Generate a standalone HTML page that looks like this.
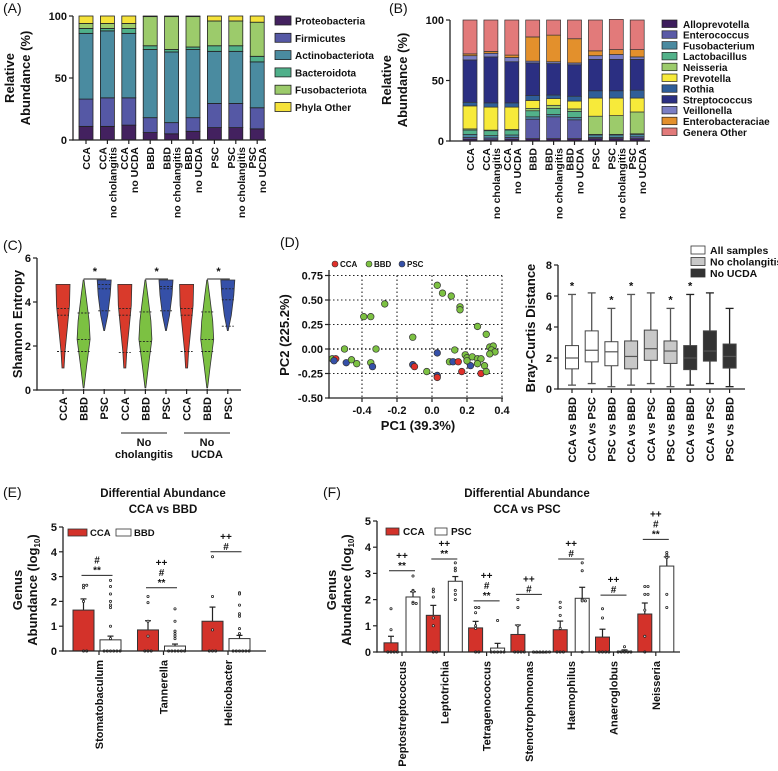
<!DOCTYPE html>
<html><head><meta charset="utf-8"><style>
html,body{margin:0;padding:0;background:#fff;}
svg{display:block;font-family:"Liberation Sans",Arial,sans-serif;}
text{font-weight:bold;fill:#111;}
</style></head><body>
<svg id="fig" width="778" height="771" viewBox="0 0 778 771" xmlns="http://www.w3.org/2000/svg"></svg>
<script>
// ---------- DATA ----------
const aCats=[["CCA"],["CCA","no cholangitis"],["CCA","no UCDA"],["BBD"],["BBD","no cholangitis"],["BBD","no UCDA"],["PSC"],["PSC","no cholangitis"],["PSC","no UCDA"]];
const aSeries=["Proteobacteria","Firmicutes","Actinobacteriota","Bacteroidota","Fusobacteriota","Phyla Other"];
const aProteo=[11,11,12,6,5,7,10,10,9];
const aFirm=[22,23,22,12,9,11,19.5,19.5,17];
const aActino=[53,54,52,55,57,55,42,42,37];
const aBact=[4,2,4,3,2,2,4.5,4.5,4.5];
const aFuso=[4,4,4,23.5,26.5,24.5,20,20,27.5];
const aOther=[6,6,6,0.5,0.5,0.5,4,4,5];
const aTicks=[0,50,100];
const bSeries=["Alloprevotella","Enterococcus","Fusobacterium","Lactobacillus","Neisseria","Prevotella","Rothia","Streptococcus","Veillonella","Enterobacteraciae","Genera Other"];
const bAllo=[1.5,1,1.5,2,2,2,2,2,2];
const bEntero=[1.5,1.5,1.5,16,18,15.5,1,1,1.5];
const bFuso=[2.5,2,2,2,2,2,2,2,2];
const bLacto=[3.5,4,4,5,5,5,0.5,0.5,0.5];
const bNeis=[1,0.5,0.5,2,2.5,2,15,15.5,18];
const bPrev=[19,19,18.5,6.5,5.5,6.5,15,14.5,11.5];
const bRoth=[3,3.5,3.5,4,3,4,6,6,6.5];
const bStrep=[35,38,34,27,26,26,26,26,25.5];
const bVeil=[3.5,3,3.5,1.5,1.5,1.5,3,4,2];
const bEntb=[1.5,1.5,2,20,22,20,4,4,6];
const bOther=[28,26,29,14,12.5,15.5,25.5,25,24.5];
const cCats=["CCA","BBD","PSC","CCA","BBD","PSC","CCA","BBD","PSC"];
const cMin=[1.0,0.1,2.7,1.0,0.1,2.7,1.0,0.1,2.7];
const cMax=[4.8,5.0,5.0,4.8,5.0,5.0,4.8,5.0,5.0];
const cMed=[3.4,2.3,4.6,3.4,2.2,4.6,3.4,2.3,4.1];
const cQ1=[1.75,1.75,3.6,1.7,1.75,3.6,1.75,1.75,2.9];
const cQ3=[3.7,3.5,4.8,3.7,3.55,4.7,3.7,3.55,4.6];
const cTicks=[0,2,4,6];
const dPC1=[-0.57,-0.55,-0.56,-0.50,-0.49,-0.46,-0.43,-0.32,-0.35,-0.34,-0.39,-0.35,-0.27,0.03,0.06,0.11,0.16,0.16,0.26,0.31,-0.11,0.13,0.33,0.35,0.34,0.36,0.33,0.03,-0.11,-0.10,-0.03,0.03,0.03,0.10,0.12,0.15,0.19,0.20,0.23,0.22,0.17,0.20,0.26,0.28,0.26,0.30,0.28,0.31];
const dPC2=[-0.10,-0.10,-0.12,0.00,-0.14,-0.11,-0.15,0.00,-0.14,-0.18,0.33,0.33,0.46,0.65,0.57,0.54,0.43,0.40,0.23,0.15,0.12,-0.01,0.02,0.03,-0.01,-0.03,-0.05,-0.04,-0.16,-0.18,-0.23,-0.27,-0.29,-0.13,-0.13,-0.13,-0.06,-0.09,-0.08,-0.17,-0.23,-0.12,-0.10,-0.10,-0.15,-0.17,-0.25,-0.23];
const dGrp=["BBD","CCA","PSC","BBD","PSC","BBD","BBD","BBD","BBD","PSC","BBD","BBD","BBD","BBD","BBD","BBD","BBD","BBD","BBD","BBD","BBD","BBD","BBD","BBD","BBD","BBD","BBD","PSC","PSC","CCA","BBD","PSC","CCA","BBD","PSC","CCA","BBD","BBD","BBD","PSC","CCA","BBD","BBD","BBD","BBD","BBD","CCA","BBD"];
const dXTicks=[-0.4,-0.2,0.0,0.2,0.4];
const dYTicks=[-0.50,-0.25,0.00,0.25,0.50,0.75];
const bcCats=["CCA vs BBD","CCA vs PSC","PSC vs BBD","CCA vs BBD","CCA vs PSC","PSC vs BBD","CCA vs BBD","CCA vs PSC","PSC vs BBD"];
const bcLo=[0.25,0.35,0.15,0.25,0.35,0.15,0.25,0.35,0.15];
const bcQ1=[1.3,1.75,1.5,1.3,1.85,1.65,1.25,1.8,1.35];
const bcMed=[2.0,2.5,2.4,2.1,2.6,2.45,2.0,2.45,2.1];
const bcQ3=[2.8,3.75,3.05,3.1,3.8,3.1,2.8,3.75,2.9];
const bcHi=[6.1,6.2,5.2,6.1,6.2,5.2,6.1,6.2,5.2];
const bcStar=[1,0,1,1,0,1,1,0,0];
const bcTicks=[0,2,4,6,8];
const eCats=["Stomatobaculum","Tannerella","Helicobacter"];
const eCCA=[1.65,0.85,1.2];
const eCCAerr=[0.45,0.37,0.57];
const eBBD=[0.45,0.2,0.5];
const eBBDerr=[0.15,0.08,0.13];
const eSigY=[3.05,2.55,4.0];
const eSig=[["#","**"],["++","#","**"],["++","#"]];
const eCCAdots=[[2.65,2.65,2.55,2.0,0,0],[2.2,1.95,1.2,0.6,0,0,0],[3.8,2.2,0.85,0,0,0]];
const eBBDdots=[[2.85,2.6,2.3,2.0,1.85,1.75,1.0,0.5,0,0,0,0,0,0],[1.7,1.2,0.8,0.7,0.6,0.5,0,0,0,0,0,0],[2.35,2.3,1.85,1.5,1.4,0.9,0.7,0,0,0,0,0,0]];
const eTicks=[0,1,2,3,4,5];
const fCats=["Peptostreptococcus","Leptotrichia","Tetragenococcus","Stenotrophomonas","Haemophilus","Anaeroglobus","Neisseria"];
const fCCA=[0.35,1.4,0.92,0.67,0.85,0.57,1.45];
const fCCAerr=[0.25,0.38,0.25,0.36,0.33,0.30,0.42];
const fPSC=[2.1,2.7,0.15,0.0,2.05,0.03,3.28];
const fPSCerr=[0.2,0.18,0.18,0.0,0.42,0.05,0.35];
const fSigY=[3.1,3.55,1.95,2.2,3.55,2.17,4.3];
const fSig=[["++","**"],["++","**"],["++","#","**"],["++","#"],["++","#"],["++","#"],["++","#","**"]];
const fCCAdots=[[1.65,0.85,0,0,0,0],[2.4,2.3,2.1,1.3,1.0,0,0],[1.7,1.7,1.5,1.0,0.9,0,0],[2.0,1.7,1.0,0,0,0,0],[1.9,1.7,1.4,0.9,0,0,0],[1.65,1.3,0,0,0,0],[2.5,2.5,2.2,2.2,1.6,0.6,0]];
const fPSCdots=[[2.9,2.35,2.3,1.9,1.85,1.85],[3.4,3.2,3.1,2.35,2.2,2.0],[1.2,0,0,0,0,0],[0,0,0,0,0,0],[3.4,3.1,2.0,1.95,1.95,0],[0.2,0,0,0,0,0],[3.8,3.7,3.6,2.2,1.7]];
const fTicks=[0,1,2,3,4,5];

// ---------- HELPERS ----------
const NS="http://www.w3.org/2000/svg";
const svg=document.getElementById('fig');
function mk(tag,attrs,parent){const e=document.createElementNS(NS,tag);for(const k in attrs)e.setAttribute(k,attrs[k]);(parent||svg).appendChild(e);return e;}
function txt(s,x,y,size,anchor,parent,rot){const e=mk('text',{x:x,y:y,'font-size':size,'text-anchor':anchor||'start'},parent);if(rot)e.setAttribute('transform','rotate(-90 '+x+' '+y+')');e.textContent=s;return e;}
function line(x1,y1,x2,y2,parent,w,dash,col){const e=mk('line',{x1:x1,y1:y1,x2:x2,y2:y2,stroke:col||'#222','stroke-width':w||1.2},parent);if(dash)e.setAttribute('stroke-dasharray',dash);return e;}
let el;

[["(A)",3,13],["(B)",389,13],["(C)",3,250],["(D)",280,247],["(E)",3,497],["(F)",323,497]].forEach(p=>{
  el=txt(p[0],p[1],p[2],14,'start');
  
  
  el.style.fontWeight='normal';
});

// ---------- PANEL A ----------
const gA=mk('g',{});


const yA=v=>140-v*1.24;
const xA=i=>86+i*21.4;
const aCols=["#43215f","#5558a5","#4a8ba0","#4fb08a","#9ccb6b","#f5e23a"];
const aVals=[aProteo,aFirm,aActino,aBact,aFuso,aOther];
aCats.forEach((c,i)=>{
  let cum=0;
  aVals.forEach((arr,s)=>{
    const v=arr[i];
    el=mk('rect',{x:xA(i)-7,y:yA(cum+v),width:14,height:Math.max(0,yA(cum)-yA(cum+v)),fill:aCols[s],stroke:'#222','stroke-width':0.8},gA);
    
    
    cum+=v;
  });
  line(xA(i),140,xA(i),144,gA);
  c.forEach((l,k)=>{
    const off=c.length===1?4:(k===0?-1:9);
    el=txt(l,xA(i)+off,147,10.5,'end',gA,true);
    
    
  });
});
line(73,16,73,140.6,gA,1.3);line(72.4,140,266,140,gA,1.3);
aTicks.forEach(t=>{line(69,yA(t),73,yA(t),gA);
  el=txt(String(t),67,yA(t)+4,11,'end',gA);
  
  });
el=txt("Relative",14,78,13,'middle',gA,true);


el=txt("Abundance (%)",30,78,13,'middle',gA,true);


aSeries.forEach((s,k)=>{const yy=16+k*17.3;
  el=mk('rect',{x:275,y:yy,width:16,height:9,fill:aCols[k],stroke:'#222','stroke-width':0.8},gA);
  
  
  el=txt(s,295,yy+8.5,10,'start',gA);
  
  });

// ---------- PANEL B ----------
const gB=mk('g',{});


const yB=v=>141-v*1.21;
const xB=i=>470+i*20.9;
const bCols=["#3d1d5c","#5a5aa6","#4a8aa0","#52b28a","#9ccb6b","#f7ea3a","#2f5e98","#2b2f82","#7a7ec4","#e3902c","#e27a7a"];
const bVals=[bAllo,bEntero,bFuso,bLacto,bNeis,bPrev,bRoth,bStrep,bVeil,bEntb,bOther];
aCats.forEach((c,i)=>{
  let cum=0;
  bVals.forEach((arr,s)=>{const v=arr[i];
    el=mk('rect',{x:xB(i)-7,y:yB(cum+v),width:14,height:Math.max(0,yB(cum)-yB(cum+v)),fill:bCols[s],stroke:'#333','stroke-width':0.7},gB);
    
    
    cum+=v;});
  line(xB(i),141,xB(i),145,gB);
  c.forEach((l,k)=>{const off=c.length===1?4:(k===0?-1:9);
    el=txt(l,xB(i)+off,148,10.5,'end',gB,true);
    
    });
});
line(450,20,450,141.6,gB,1.3);line(449.4,141,650,141,gB,1.3);
aTicks.forEach(t=>{line(446,yB(t),450,yB(t),gB);
  el=txt(String(t),444,yB(t)+4,11,'end',gB);
  
  });
el=txt("Relative",391,80,13,'middle',gB,true);


el=txt("Abundance (%)",407,80,13,'middle',gB,true);


bSeries.forEach((s,k)=>{const yy=20+k*10.8;
  el=mk('rect',{x:662,y:yy,width:15,height:7.5,fill:bCols[k],stroke:'#222','stroke-width':0.7},gB);
  
  
  el=txt(s,683,yy+7.8,10,'start',gB);
  
  });

// ---------- PANEL C ----------
const gC=mk('g',{});


const yC=v=>390-v*22;
const xC=i=>63+i*20.6;
const cCol={CCA:"#d93a2b",BBD:"#7cc142",PSC:"#3550a8"};
const prof={CCA:[[0,1],[0.2,2],[0.5,4.5],[0.75,6.5],[1,7]],BBD:[[0,0.4],[0.2,3],[0.45,6.5],[0.62,5.5],[0.85,2.5],[1,0.4]],PSC:[[0,0.4],[0.3,3.5],[0.7,6],[1,7]]};
cCats.forEach((c,i)=>{
  const p=prof[c],lo=cMin[i],hi=cMax[i],cx=xC(i);
  const R=p.map(q=>(cx+q[1])+','+yC(lo+q[0]*(hi-lo)));
  const L=p.slice().reverse().map(q=>(cx-q[1])+','+yC(lo+q[0]*(hi-lo)));
  el=mk('polygon',{points:R.concat(L).join(' '),fill:cCol[c],stroke:'#333','stroke-width':0.8},gC);
  
  
  [cQ1[i],cMed[i],cQ3[i]].forEach(v=>{line(cx-6,yC(v),cx+6,yC(v),gC,0.9,'2,1.5');});
  line(cx,389,cx,394,gC);
  el=txt(c,cx+4,397,11,'end',gC,true);
  
  
});
[1,4,7].forEach(i=>{line(xC(i),279,xC(i+1)+2,279,gC,1);
  el=txt("*",(xC(i)+xC(i+1))/2+1,275,11,'middle',gC);
  
  });
line(37,258,37,390.6,gC,1.3);line(36.4,390,241,390,gC,1.3);
cTicks.forEach(t=>{line(33,yC(t),37,yC(t),gC);
  el=txt(String(t),31,yC(t)+4,11,'end',gC);
  
  });
el=txt("Shannon Entropy",22,324,13,'middle',gC,true);


[["No","cholangitis",144],["No","UCDA",207]].forEach(g=>{
  line(g[2]-23,433,g[2]+23,433,gC,1);
  el=txt(g[0],g[2],446,11,'middle',gC);
  
  
  el=txt(g[1],g[2],458,11,'middle',gC);
  
  });

// ---------- PANEL D ----------
const gD=mk('g',{});


const xD=v=>432+v*175;
const yD=v=>349-v*98;
dYTicks.slice(1).forEach(t=>{line(329,yD(t),502,yD(t),gD,t===0?1.6:1.1,'1.5,2.5');});
dXTicks.forEach(t=>{line(xD(t),yD(0.75),xD(t),398,gD,1.1,'1.5,2.5');});
const dCol={CCA:"#e0302a",BBD:"#7cc142",PSC:"#3550a8"};
dPC1.forEach((v,i)=>{el=mk('circle',{cx:xD(v),cy:yD(dPC2[i]),r:3.3,fill:dCol[dGrp[i]],stroke:'#333','stroke-width':0.7},gD);
  
  });
line(329,270,329,398.6,gD,1.3);line(328.4,398,503,398,gD,1.3);
dYTicks.forEach(t=>{line(325,yD(t),329,yD(t),gD);
  el=txt(t.toFixed(2),323,yD(t)+4,11,'end',gD);
  
  });
dXTicks.forEach(t=>{line(xD(t),398,xD(t),402,gD);
  el=txt(t.toFixed(1),xD(t),414,11,'middle',gD);
  
  });
el=txt("PC1 (39.3%)",418,430,13,'middle',gD);


el=txt("PC2 (225.2%)",289,335,13,'middle',gD,true);


[["CCA",335],["BBD",369],["PSC",402]].forEach(l=>{
  el=mk('circle',{cx:l[1],cy:264,r:3,fill:dCol[l[0]],stroke:'#333','stroke-width':0.6},gD);
  
  
  el=txt(l[0],l[1]+5,267,8,'start',gD);
  
  });

// ---------- BRAY-CURTIS ----------
const gBC=mk('g',{});


const yBC=v=>389-v*15.5;
const xBC=i=>572+i*19.7;
const bcFill=["#fff","#fff","#fff","#c8c8c8","#c8c8c8","#c8c8c8","#333","#333","#333"];
bcCats.forEach((c,i)=>{const cx=xBC(i);
  const wc=i>=6?'#222':'#555';
  line(cx,yBC(bcLo[i]),cx,yBC(bcHi[i]),gBC,1.3,null,wc);
  line(cx-4,yBC(bcLo[i]),cx+4,yBC(bcLo[i]),gBC,1.3,null,wc);
  line(cx-4,yBC(bcHi[i]),cx+4,yBC(bcHi[i]),gBC,1.3,null,wc);
  el=mk('rect',{x:cx-6.5,y:yBC(bcQ3[i]),width:13,height:yBC(bcQ1[i])-yBC(bcQ3[i]),fill:bcFill[i],stroke:'#444','stroke-width':1},gBC);
  
  
  line(cx-6.5,yBC(bcMed[i]),cx+6.5,yBC(bcMed[i]),gBC,1.2,null,'#555');
  if(bcStar[i]){el=txt("*",cx,yBC(bcHi[i])-5,11,'middle',gBC);
    
    }
  line(cx,389,cx,393,gBC);
  el=txt(c,cx+4,397,11,'end',gBC,true);
  
  
});
line(558,265,558,389.6,gBC,1.3);line(557.4,389,745,389,gBC,1.3);
bcTicks.forEach(t=>{line(554,yBC(t),558,yBC(t),gBC);
  el=txt(String(t),552,yBC(t)+4,11,'end',gBC);
  
  });
el=txt("Bray-Curtis Distance",535,328,13,'middle',gBC,true);


[["All samples","#fff"],["No cholangitis","#c8c8c8"],["No UCDA","#333"]].forEach((l,k)=>{const yy=246+k*11.5;
  el=mk('rect',{x:691,y:yy,width:14,height:8,fill:l[1],stroke:'#333','stroke-width':0.8},gBC);
  
  
  el=txt(l[0],710,yy+8,10.5,'start',gBC);
  
  });

// ---------- GROUPED BAR DRAWER ----------
function grouped(g,cats,v1,e1,v2,e2,d1,d2,sigY,sig,yF,xF,w,o1,o2,nm1,nm2){
  cats.forEach((c,i)=>{const cx=xF(i);
    [[v1,e1,d1,'#d3322a',o1,nm1],[v2,e2,d2,'#fff',o2,nm2]].forEach(s=>{
      const x0=cx+s[4],v=s[0][i];
      line(x0+w/2,yF(v),x0+w/2,yF(v+s[1][i]),g,1.2);
      if(s[1][i]>0)line(x0+w/2-3,yF(v+s[1][i]),x0+w/2+3,yF(v+s[1][i]),g,1.2);
      el=mk('rect',{x:x0,y:yF(v),width:w,height:Math.max(0.8,yF(0)-yF(v)),fill:s[3],stroke:'#333','stroke-width':1},g);
      
      
      const cnt={};
      s[2][i].forEach(dv=>{const key=dv.toFixed(2);cnt[key]=(cnt[key]||0)+1;const n=cnt[key]-1;
        const dx=x0+w/2+((n%2)?1:-1)*Math.ceil(n/2)*3.2*(n?1:0);
        el=mk('circle',{cx:dx,cy:yF(dv),r:1.1,fill:'#fff',stroke:'#222','stroke-width':0.8},g);
        
        });
    });
    const lx1=cx+o1+w/2-2,lx2=cx+o2+w/2+2;
    line(lx1,yF(sigY[i]),lx2,yF(sigY[i]),g,1);
    sig[i].slice().reverse().forEach((s,k)=>{el=txt(s,(lx1+lx2)/2,yF(sigY[i])-2-k*10,10,'middle',g);
      
      });
    line(cx,yF(0),cx,yF(0)+4,g);
    el=txt(c,cx+4,yF(0)+9,11,'end',g,true);
    
    
  });
}

// ---------- PANEL E ----------
const gE=mk('g',{});


const yE=v=>651-v*24.8;
const xE=i=>99+i*64.5;
grouped(gE,eCats,eCCA,eCCAerr,eBBD,eBBDerr,eCCAdots,eBBDdots,eSigY,eSig,yE,xE,21,-26,1,'cca','bbd');
line(63,527,63,651.6,gE,1.3);line(62.4,651,266,651,gE,1.3);
eTicks.forEach(t=>{line(59,yE(t),63,yE(t),gE);
  el=txt(String(t),57,yE(t)+4,11,'end',gE);
  
  });
el=txt("Differential Abundance",163,497,11.5,'middle',gE);


el=txt("CCA vs BBD",163,513,11.5,'middle',gE);


el=txt("Genus",22,590,13,'middle',gE,true);


el=mk('text',{x:37,y:590,'font-size':13,'text-anchor':'middle',transform:'rotate(-90 37 590)'},gE);


el.innerHTML='Abundance (log<tspan font-size="8" dy="3">10</tspan><tspan dy="-3">)</tspan>';
el=mk('rect',{x:68,y:529,width:19,height:7,fill:'#d3322a',stroke:'#333','stroke-width':0.8},gE);


el=txt("CCA",90,536,9.5,'start',gE);


el=mk('rect',{x:116,y:529,width:15,height:7,fill:'#fff',stroke:'#333','stroke-width':0.8},gE);


el=txt("BBD",134,536,9.5,'start',gE);



// ---------- PANEL F ----------
const gF=mk('g',{});


const yF=v=>652-v*26.2;
const xF=i=>402+i*42.3;
grouped(gF,fCats,fCCA,fCCAerr,fPSC,fPSCerr,fCCAdots,fPSCdots,fSigY,fSig,yF,xF,14,-18,4,'cca','psc');
line(377,521,377,652.6,gF,1.3);line(376.4,652,680,652,gF,1.3);
fTicks.forEach(t=>{line(373,yF(t),377,yF(t),gF);
  el=txt(String(t),371,yF(t)+4,11,'end',gF);
  
  });
el=txt("Differential Abundance",527,497,11.5,'middle',gF);


el=txt("CCA vs PSC",527,513,11.5,'middle',gF);


el=txt("Genus",336,590,13,'middle',gF,true);


el=mk('text',{x:351,y:590,'font-size':13,'text-anchor':'middle',transform:'rotate(-90 351 590)'},gF);


el.innerHTML='Abundance (log<tspan font-size="8" dy="3">10</tspan><tspan dy="-3">)</tspan>';
el=mk('rect',{x:386,y:528,width:13,height:7,fill:'#d3322a',stroke:'#333','stroke-width':0.8},gF);


el=txt("CCA",403,535,10,'start',gF);


el=mk('rect',{x:435,y:528,width:12,height:7,fill:'#fff',stroke:'#333','stroke-width':0.8},gF);


el=txt("PSC",451,535,10,'start',gF);


</script>
</body></html>
